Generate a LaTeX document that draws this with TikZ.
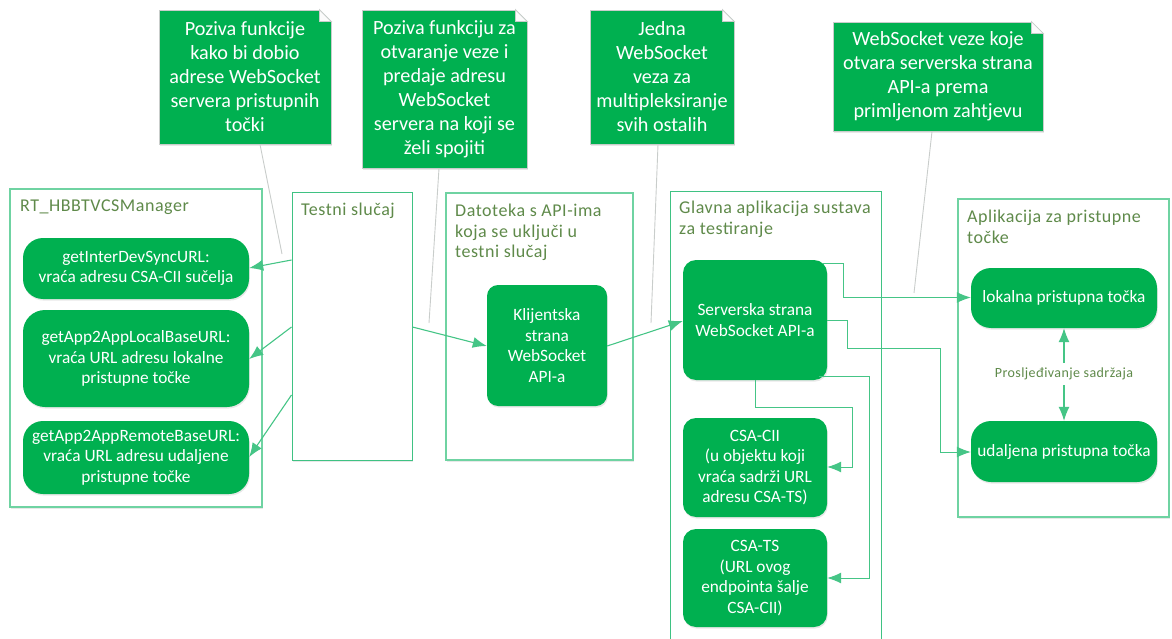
\documentclass[tikz,border=0pt]{standalone}
\usepackage{fontspec}
\setmainfont{Carlito}
\newfontfamily\wideface[LetterSpace=3]{Carlito}
\usetikzlibrary{arrows.meta,shadows}
\definecolor{gfill}{HTML}{00B050}
\definecolor{gbord}{HTML}{6FD3A2}
\definecolor{gbordb}{HTML}{3FC283}
\definecolor{gline}{HTML}{45C586}
\definecolor{gtitle}{HTML}{5F8A4A}
\definecolor{gnote}{HTML}{C9CDCB}
\tikzset{
  x=1pt,y=-1pt,
  softshadow/.style={drop shadow={opacity=.18,shadow xshift=.8pt,shadow yshift=-1.6pt}},
  notebox/.style={rectangle,draw=gnote,line width=.8pt,fill=gfill,text=white,inner sep=0pt,align=center,
    font=\fontsize{20.2}{24}\selectfont,softshadow},
  frame/.style={rectangle,draw=gbord,line width=1.2pt,inner sep=0pt,fill=white,softshadow},
  framedark/.style={frame,draw=gbordb,line width=1pt},
  pill/.style={rectangle,rounded corners=#1,fill=gfill,text=white,inner sep=0pt,align=center,
    font=\fontsize{17.3}{20.5}\selectfont,softshadow},
  pill/.default=20pt,
  title/.style={anchor=west,align=left,inner sep=0pt,text=gtitle,font=\wideface\fontsize{18}{20.5}\selectfont},
  conn/.style={draw=gline,line width=1.1pt,-{Latex[length=14pt,width=11pt]}},
  link/.style={draw=gline,line width=1pt,-{Latex[length=14pt,width=11pt]}},
  callout/.style={draw=gnote,line width=.9pt},
}
% \placed{style}{name}{x1}{y1}{x2}{y2}{text}
\newcommand{\placed}[7]{%
  \pgfmathsetmacro{\cxv}{(#3+#5)/2}\pgfmathsetmacro{\cyv}{(#4+#6)/2}%
  \pgfmathsetmacro{\wv}{#5-#3}\pgfmathsetmacro{\hv}{#6-#4}%
  \node[#1,minimum width=\wv pt,minimum height=\hv pt] (#2) at (\cxv,\cyv) {#7};}
\newcommand{\earfold}[1]{%
  \fill[white] ([xshift=-12.5pt,yshift=.6pt]#1.north east) -- ([xshift=.8pt,yshift=.6pt]#1.north east) -- ([xshift=.8pt,yshift=-12.5pt]#1.north east) -- cycle;
  \draw[gnote,line width=.8pt,fill=white!92!gnote] ([xshift=-12pt]#1.north east) -- ([yshift=-12pt]#1.north east) -- ([xshift=-12pt,yshift=-12pt]#1.north east) -- cycle;}
\begin{document}
\begin{tikzpicture}
\useasboundingbox (0,0) rectangle (1172,639);
% notes
\placed{notebox}{n1}{159}{10}{331}{144}{Poziva funkcije\\kako bi dobio\\adrese WebSocket\\servera pristupnih\\točki}
\placed{notebox}{n2}{362}{10}{527}{168}{Poziva funkciju za\\otvaranje veze i\\predaje adresu\\WebSocket\\servera na koji se\\želi spojiti}
\placed{notebox}{n3}{590}{10}{734}{144}{Jedna\\WebSocket\\veza za\\multipleksiranje\\svih ostalih}
\placed{notebox}{n4}{833}{22}{1043}{131}{WebSocket veze koje\\otvara serverska strana\\API-a prema\\primljenom zahtjevu}
\earfold{n1}\earfold{n2}\earfold{n3}\earfold{n4}
% containers
\placed{frame}{c1}{10}{189}{262}{507}{}
\placed{framedark}{c2}{292}{193}{412}{460}{}
\placed{frame}{c3}{446}{193}{633}{460}{}
\placed{framedark}{c4}{670}{192}{881}{660}{}
\placed{frame}{c5}{958}{199}{1169}{517}{}
% titles
\node[title] (t1) at (20,207) {RT\_HBBTVCSManager};
\node[title] (t2) at (301,211) {Testni slučaj};
\node[title] (t3) at (455,232.5) {Datoteka s API-ima\\koja se uključi u\\testni slučaj};
\node[title] (t4) at (679,219.5) {Glavna aplikacija sustava\\za testiranje};
\node[title] (t5) at (967,227) {Aplikacija za pristupne\\točke};
% green boxes
\placed{pill=20pt}{p1}{23}{238}{249}{299}{getInterDevSyncURL:\\vraća adresu CSA-CII sučelja}
\placed{pill=22pt}{p2}{23}{310}{249}{407}{getApp2AppLocalBaseURL:\\vraća URL adresu lokalne\\pristupne točke}
\placed{pill=20pt}{p3}{23}{421}{249}{494}{getApp2AppRemoteBaseURL:\\vraća URL adresu udaljene\\pristupne točke}
\placed{pill=11pt}{k}{487}{285}{607}{406}{Klijentska\\strana\\WebSocket\\API-a}
\placed{pill=13pt}{s}{683}{260}{827}{380}{Serverska strana\\WebSocket API-a}
\placed{pill=13pt}{cii}{683}{418}{827}{517}{CSA-CII\\(u objektu koji\\vraća sadrži URL\\adresu CSA-TS)}
\placed{pill=13pt}{ts}{683}{529}{827}{627}{CSA-TS\\(URL ovog\\endpointa šalje\\CSA-CII)}
\placed{pill=20pt}{lok}{971}{268}{1157}{328}{lokalna pristupna točka}
\placed{pill=20pt}{uda}{971}{421}{1157}{482}{udaljena pristupna točka}
% callout free ends
\coordinate (e1) at (282,254);
\coordinate (e2) at (429,323);
\coordinate (e3) at (651,323);
\coordinate (e4) at (914,293);
\draw[callout] (n1.south -| 260,0) -- (e1);
\draw[callout] (n2.south -| 439,0) -- (e2);
\draw[callout] (n3.south -| 658,0) -- (e3);
\draw[callout] (n4.south -| 932,0) -- (e4);
% straight connectors
\draw[conn] (c2.west |- 0,260) -- (p1.east |- 0,268);
\draw[conn] (c2.west |- 0,327) -- (p2.east |- 0,359);
\draw[conn] (c2.west |- 0,395) -- (p3.east |- 0,457);
\draw[conn] (c2.east |- 0,327) -- (k.west |- 0,346);
\draw[conn] (k.east |- 0,346) -- (s.west |- 0,321);
% elbow connectors
\draw[link] (823,263) -- (843,263) -- (843,297.5) -- (lok.west |- 0,297.5);
\draw[link] (s.east |- 0,320) -- (847,320) -- (847,348) -- (940,348) -- (940,452) -- (uda.west |- 0,452);
\draw[link] (s.south -| 755,0) -- (755,407.5) -- (852,407.5) -- (852,467) -- (cii.east |- 0,467);
\draw[link] (819,376.5) -- (869,376.5) -- (869,578) -- (ts.east |- 0,578);
% forwarding
\node[inner sep=0pt,text=gtitle,font=\wideface\fontsize{14}{16}\selectfont] (fw) at (1064,374) {Prosljeđivanje sadržaja};
\draw[conn] (fw.north -| lok.south) ++(0,-5) -- (lok.south);
\draw[conn] (fw.south -| uda.north) ++(0,5) -- (uda.north);
\end{tikzpicture}
\end{document}
